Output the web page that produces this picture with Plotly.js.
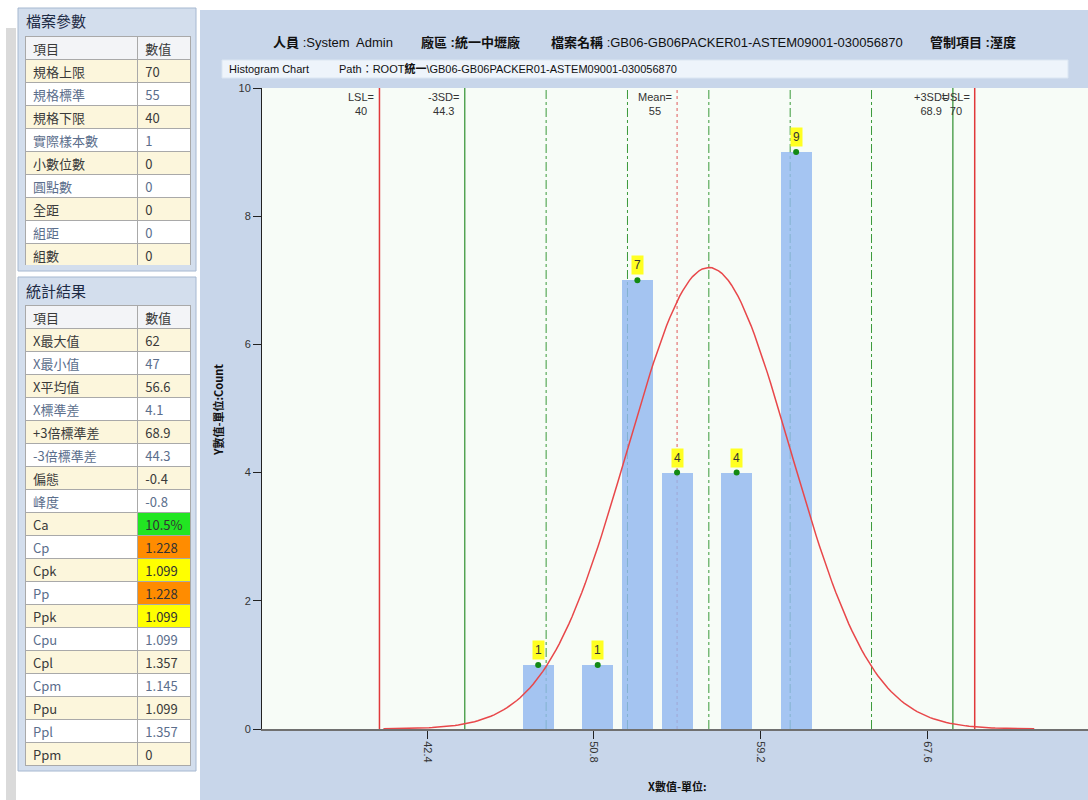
<!DOCTYPE html>
<html>
<head>
<meta charset="utf-8">
<script src="https://cdn.plot.ly/plotly-3.0.1.min.js"></script>
<style>html,body{margin:0;padding:0;background:#fff;}#chart{width:1088px;height:800px;}</style>
</head>
<body>
<div id="chart"></div>
<script>
// ---------- data ----------
const binCenters = [48, 51, 53, 55, 58, 61];
const binCounts  = [1, 1, 7, 4, 4, 9];
const barWidth   = 1.56;

const specLimits   = [40, 70];          // LSL, USL
const specLabels   = ['LSL=<br>40', 'USL=<br>70'];
const sd3Lines     = [44.3, 68.9];      // -3SD, +3SD
const sd3Labels    = ['-3SD=<br>44.3', '+3SD=<br>68.9'];
const targetLine   = [55];
const targetLabels = ['Mean=<br>55'];
const sigmaLines   = [48.4, 52.5, 56.6, 60.7, 64.8];

const fitMean = 56.6;
const fitSD   = 4.1;
const fitPeak = 7.2;

const xTickVals = [42.4, 50.8, 59.2, 67.6];
const xTickText = ['42.4', '50.8', '59.2', '67.6'];
const yTickVals = [0, 2, 4, 6, 8, 10];

const fileParamNames  = ['規格上限','規格標準','規格下限','實際樣本數','小數位數','圓點數','全距','組距','組數'];
const fileParamValues = ['70','55','40','1','0','0','0','0','0'];

const statNames  = ['X最大值','X最小值','X平均值','X標準差','+3倍標準差','-3倍標準差','偏態','峰度','Ca','Cp','Cpk','Pp','Ppk','Cpu','Cpl','Cpm','Ppu','Ppl','Ppm'];
const statValues = ['62','47','56.6','4.1','68.9','44.3','-0.4','-0.8','10.5%','1.228','1.099','1.228','1.099','1.099','1.357','1.145','1.099','1.357','0'];
const statHighlight = {'Ca':'#22e622','Cp':'#ff8c00','Cpk':'#ffff00','Pp':'#ff8c00','Ppk':'#ffff00'};

// ---------- helpers ----------
const W = 1088, H = 800;
const px = v => v / W;
const py = v => 1 - v / H;
const FONT = 'Liberation Sans, Arial, Noto Sans CJK TC, sans-serif';
const CJK = 'Noto Sans CJK TC, Liberation Sans, sans-serif';

// fitted normal curve from the table's mean / SD
const curveX = [], curveY = [];
for (let i = 0; i <= 200; i++) {
  const x = fitMean - 4 * fitSD + i * (8 * fitSD) / 200;
  curveX.push(x);
  curveY.push(fitPeak * Math.exp(-0.5 * Math.pow((x - fitMean) / fitSD, 2)));
}

function rowFills(n) { const a = []; for (let i = 0; i < n; i++) a.push(i % 2 === 0 ? '#fcf6dc' : '#ffffff'); return a; }
function rowFontColors(n) { const a = []; for (let i = 0; i < n; i++) a.push(i % 2 === 0 ? '#3a3a3a' : '#5b6e8c'); return a; }

const statValFill = rowFills(statNames.length).map((c, i) => statHighlight[statNames[i]] || c);
const statValFont = rowFontColors(statNames.length).map((c, i) => statHighlight[statNames[i]] ? '#333' : c);

// ---------- traces ----------
const traces = [
  {
    type: 'bar', x: binCenters, y: binCounts, width: barWidth,
    marker: { color: '#92b8f0', line: { width: 0 } }, opacity: 0.82,
    hoverinfo: 'x+y', showlegend: false
  },
  {
    type: 'scatter', mode: 'lines', x: curveX, y: curveY,
    line: { color: '#e8474a', width: 1.5 }, hoverinfo: 'skip', showlegend: false
  },
  {
    type: 'scatter', mode: 'markers', x: binCenters, y: binCounts,
    marker: { color: '#138a13', size: 6 }, hoverinfo: 'skip', showlegend: false
  },
  {
    type: 'table',
    domain: { x: [px(25), px(191)], y: [py(266), py(36)] },
    columnwidth: [113, 53],
    header: {
      values: ['項目', '數值'], height: 23, align: 'left',
      fill: { color: '#f3f4f7' }, line: { color: '#a9a9a9', width: 1 },
      font: { family: CJK, size: 13, color: '#3a3a3a' }
    },
    cells: {
      values: [fileParamNames, fileParamValues], height: 23, align: 'left',
      fill: { color: [rowFills(fileParamNames.length), rowFills(fileParamNames.length)] },
      line: { color: '#a9a9a9', width: 1 },
      font: { family: CJK, size: 13, color: [rowFontColors(fileParamNames.length), rowFontColors(fileParamNames.length)] }
    }
  },
  {
    type: 'table',
    domain: { x: [px(25), px(191)], y: [py(766), py(305)] },
    columnwidth: [113, 53],
    header: {
      values: ['項目', '數值'], height: 23, align: 'left',
      fill: { color: '#f3f4f7' }, line: { color: '#a9a9a9', width: 1 },
      font: { family: CJK, size: 13, color: '#3a3a3a' }
    },
    cells: {
      values: [statNames, statValues], height: 23, align: 'left',
      fill: { color: [rowFills(statNames.length), statValFill] },
      line: { color: '#a9a9a9', width: 1 },
      font: { family: CJK, size: 13, color: [rowFontColors(statNames.length), statValFont] }
    }
  }
];

// ---------- shapes ----------
const shapes = [
  { type: 'rect', xref: 'paper', yref: 'paper', x0: px(6), x1: px(16), y0: 0, y1: py(28), fillcolor: '#dadada', line: { width: 0 }, layer: 'below' },
  { type: 'rect', xref: 'paper', yref: 'paper', x0: px(18), x1: px(196), y0: py(271), y1: py(8), fillcolor: '#d3deed', line: { color: '#a6b8d0', width: 1 }, layer: 'below' },
  { type: 'rect', xref: 'paper', yref: 'paper', x0: px(18), x1: px(196), y0: py(771), y1: py(277), fillcolor: '#d3deed', line: { color: '#a6b8d0', width: 1 }, layer: 'below' },
  { type: 'rect', xref: 'paper', yref: 'paper', x0: px(200), x1: 1, y0: 0, y1: py(10), fillcolor: '#c8d6ea', line: { width: 0 }, layer: 'below' },
  { type: 'rect', xref: 'paper', yref: 'paper', x0: px(222), x1: px(1068), y0: py(78), y1: py(60), fillcolor: '#eef4fb', line: { color: '#dbe6f2', width: 1 }, layer: 'below' },
  { type: 'rect', xref: 'x domain', yref: 'y domain', x0: 0, x1: 1, y0: 0, y1: 1, fillcolor: '#f7fcf7', line: { width: 0 }, layer: 'below' }
];
specLimits.forEach(v => shapes.push({ type: 'line', xref: 'x', yref: 'y domain', x0: v, x1: v, y0: 0, y1: 1, line: { color: '#e0383a', width: 1.5 }, layer: 'below' }));
sd3Lines.forEach(v => shapes.push({ type: 'line', xref: 'x', yref: 'y domain', x0: v, x1: v, y0: 0, y1: 1, line: { color: '#2f8f2f', width: 1.2 }, layer: 'below' }));
targetLine.forEach(v => shapes.push({ type: 'line', xref: 'x', yref: 'y domain', x0: v, x1: v, y0: 0, y1: 1, line: { color: '#e05a5a', width: 1, dash: 'dot' }, layer: 'below' }));
sigmaLines.forEach(v => shapes.push({ type: 'line', xref: 'x', yref: 'y domain', x0: v, x1: v, y0: 0, y1: 1, line: { color: '#3a9a3a', width: 1, dash: 'dashdot' }, layer: 'below' }));

// ---------- annotations ----------
const annotations = [];
function lineLabel(v, t) {
  annotations.push({ xref: 'x', yref: 'y domain', x: v, y: 1, xanchor: 'right', yanchor: 'top', xshift: -3, yshift: -1,
    text: t, align: 'center', showarrow: false, font: { family: FONT, size: 11, color: '#333' } });
}
specLimits.forEach((v, i) => lineLabel(v, specLabels[i]));
sd3Lines.forEach((v, i) => lineLabel(v, sd3Labels[i]));
targetLine.forEach((v, i) => lineLabel(v, targetLabels[i]));

binCenters.forEach((c, i) => annotations.push({
  xref: 'x', yref: 'y', x: c, y: binCounts[i], yanchor: 'bottom', yshift: 5,
  text: String(binCounts[i]), showarrow: false, bgcolor: '#ffff22', borderpad: 2,
  font: { family: FONT, size: 12, color: '#333' }
}));

function paperText(x, y, text, opts) {
  annotations.push(Object.assign({ xref: 'paper', yref: 'paper', x: px(x), y: py(y), xanchor: 'left', yanchor: 'middle',
    text: text, showarrow: false, font: { family: FONT, size: 13, color: '#111' } }, opts || {}));
}
paperText(24, 20, '檔案參數', { font: { family: CJK, size: 15, color: '#1c2a44' } });
paperText(24, 290, '統計結果', { font: { family: CJK, size: 15, color: '#1c2a44' } });
paperText(271, 43, '<b>人員</b> :System  Admin');
paperText(419, 43, '<b>廠區 :統一中壢廠</b>');
paperText(549, 43, '<b>檔案名稱</b> :GB06-GB06PACKER01-ASTEM09001-030056870');
paperText(928, 43, '<b>管制項目 :溼度</b>');
paperText(227, 69, 'Histogram Chart', { font: { family: FONT, size: 11, color: '#111' } });
paperText(337, 69, 'Path：ROOT<b>統一</b>\\GB06-GB06PACKER01-ASTEM09001-030056870', { font: { family: FONT, size: 11, color: '#111' } });
paperText(677, 786, '<b>X數值-單位:</b>', { xanchor: 'center', font: { family: CJK, size: 11, color: '#111' } });
paperText(218, 410, '<b>Y數值-單位:Count</b>', { xanchor: 'center', textangle: -90, font: { family: CJK, size: 11, color: '#111' } });

// ---------- layout ----------
const layout = {
  width: W, height: H,
  margin: { l: 0, r: 0, t: 0, b: 0 },
  paper_bgcolor: '#ffffff', plot_bgcolor: 'rgba(0,0,0,0)',
  showlegend: false,
  font: { family: FONT, size: 11, color: '#333' },
  xaxis: {
    domain: [px(262), 1], range: [34.08, 75.71],
    tickmode: 'array', tickvals: xTickVals, ticktext: xTickText, tickangle: 90,
    ticks: 'outside', ticklen: 8, tickcolor: '#222', tickwidth: 1,
    showline: true, linecolor: '#707070', linewidth: 2,
    showgrid: false, zeroline: false, tickfont: { size: 11, color: '#333' }
  },
  yaxis: {
    domain: [1 - 729 / H, 1 - 88 / H], range: [0, 10],
    tickmode: 'array', tickvals: yTickVals,
    ticks: 'outside', ticklen: 8, tickcolor: '#222', tickwidth: 1,
    showline: true, linecolor: '#222', linewidth: 1,
    showgrid: false, zeroline: false, tickfont: { size: 11, color: '#333' }
  },
  shapes: shapes,
  annotations: annotations,
  bargap: 0
};

Plotly.newPlot('chart', traces, layout, { displayModeBar: false, staticPlot: true });
</script>
</body>
</html>
